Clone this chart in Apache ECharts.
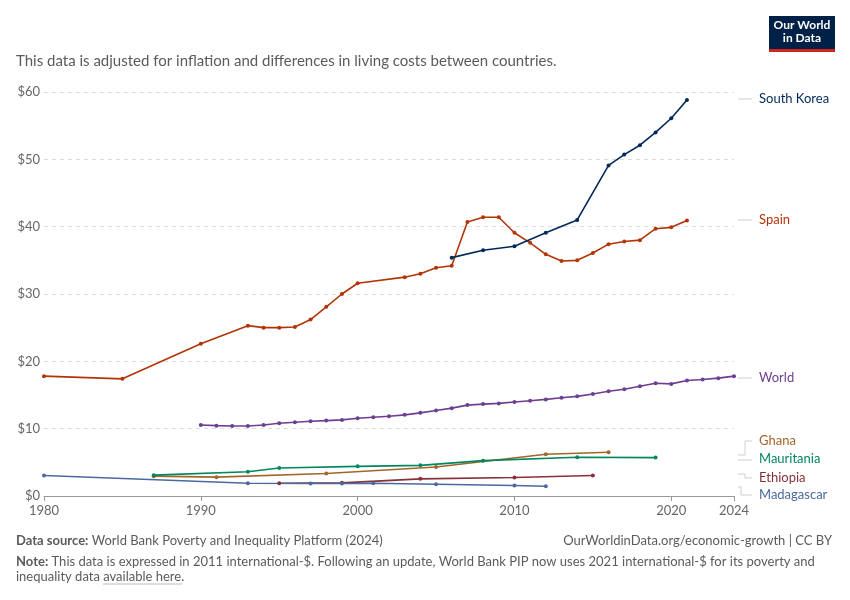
<!DOCTYPE html>
<html><head><meta charset="utf-8">
<script src="https://cdn.jsdelivr.net/npm/echarts@6/dist/echarts.min.js"></script>
<style>html,body{margin:0;padding:0;background:#fff}#c{width:850px;height:600px}</style>
</head><body><div id="c"></div>
<script>
const worldYears = [1990,1991,1992,1993,1994,1995,1996,1997,1998,1999,2000,2001,2002,2003,2004,2005,2006,2007,2008,2009,2010,2011,2012,2013,2014,2015,2016,2017,2018,2019,2020,2021,2022,2023,2024];
const worldValues = [10.55,10.45,10.4,10.4,10.55,10.8,10.95,11.1,11.2,11.3,11.55,11.7,11.85,12.05,12.35,12.7,13.05,13.5,13.65,13.75,13.95,14.15,14.35,14.6,14.8,15.15,15.55,15.85,16.3,16.75,16.65,17.15,17.3,17.5,17.8];
const spainYears = [1980,1985,1990,1993,1994,1995,1996,1997,1998,1999,2000,2003,2004,2005,2006,2007,2008,2009,2010,2011,2012,2013,2014,2015,2016,2017,2018,2019,2020,2021];
const spainValues = [17.8,17.4,22.6,25.3,25.0,25.0,25.1,26.2,28.1,30.0,31.6,32.5,33.0,33.9,34.2,40.7,41.4,41.4,39.1,37.6,35.9,34.9,35.0,36.1,37.4,37.8,38.0,39.7,39.9,40.9];
const koreaYears = [2006,2008,2010,2012,2014,2016,2017,2018,2019,2020,2021];
const koreaValues = [35.4,36.5,37.1,39.1,41.0,49.1,50.7,52.1,54.0,56.1,58.8];
const ghanaYears = [1987,1991,1998,2005,2012,2016];
const ghanaValues = [2.95,2.8,3.35,4.3,6.2,6.5];
const mauritaniaYears = [1987,1993,1995,2000,2004,2008,2014,2019];
const mauritaniaValues = [3.1,3.6,4.15,4.4,4.55,5.25,5.75,5.7];
const ethiopiaYears = [1995,1999,2004,2010,2015];
const ethiopiaValues = [1.9,1.95,2.55,2.75,3.05];
const madagascarYears = [1980,1993,1997,1999,2001,2005,2010,2012];
const madagascarValues = [3.05,1.9,1.85,1.85,1.9,1.75,1.55,1.45];
const xTicks = [1980,1990,2000,2010,2020,2024];

const pair = (xs, ys) => xs.map((x, i) => [x, ys[i]]);
const mk = (name, xs, ys, color) => ({
  name, type: 'line', data: pair(xs, ys), symbol: 'circle', symbolSize: 4,
  lineStyle: { color, width: 1.6 }, itemStyle: { color }, animation: false
});
const txt = (x, y, t, c) => ({ type: 'text', left: x, top: y, style: { text: t, fill: c, font: '13px Lato, sans-serif' } });
const ln = (pts) => ({ type: 'polyline', shape: { points: pts }, style: { stroke: '#cfcfcf', lineWidth: 1, fill: null } });

const chart = echarts.init(document.getElementById('c'));
chart.setOption({
  animation: false,
  grid: { left: 44, right: 116, top: 92, bottom: 104 },
  xAxis: {
    type: 'value', min: 1980, max: 2024,
    axisLine: { lineStyle: { color: '#999' } },
    axisTick: { show: true, customValues: xTicks, lineStyle: { color: '#999' }, length: 5 },
    axisLabel: { customValues: xTicks, formatter: v => String(v), color: '#666', fontSize: 13, fontFamily: 'Lato', margin: 8 },
    splitLine: { show: false }
  },
  yAxis: {
    type: 'value', min: 0, max: 60, interval: 10,
    axisLabel: { formatter: '${value}', color: '#666', fontSize: 13, fontFamily: 'Lato', margin: 4 },
    axisLine: { show: false }, axisTick: { show: false },
    splitLine: { lineStyle: { color: '#ddd', type: [4, 4] } }
  },
  series: [
    mk('World', worldYears, worldValues, '#6D3E91'),
    mk('Spain', spainYears, spainValues, '#B13507'),
    mk('South Korea', koreaYears, koreaValues, '#00295B'),
    mk('Ghana', ghanaYears, ghanaValues, '#A2652B'),
    mk('Mauritania', mauritaniaYears, mauritaniaValues, '#00875E'),
    mk('Ethiopia', ethiopiaYears, ethiopiaValues, '#883039'),
    mk('Madagascar', madagascarYears, madagascarValues, '#4C6A9C')
  ],
  graphic: [
    { type: 'text', left: 16, top: 54, style: { text: 'This data is adjusted for inflation and differences in living costs between countries.', fill: '#5b5b5b', font: '15px Lato, sans-serif' } },
    { type: 'rect', shape: { x: 769, y: 16, width: 66, height: 36 }, style: { fill: '#002147' } },
    { type: 'rect', shape: { x: 769, y: 49, width: 66, height: 3 }, style: { fill: '#CE261E' } },
    { type: 'text', style: { x: 802, y: 19, text: 'Our World\nin Data', fill: '#fff', font: 'bold 12px Lato, sans-serif', align: 'center', lineHeight: 13 } },
    ln([[738, 99], [752, 99]]), txt(759, 92, 'South Korea', '#00295B'),
    ln([[738, 220], [752, 220]]), txt(759, 213, 'Spain', '#B13507'),
    ln([[738, 378], [752, 378]]), txt(759, 371, 'World', '#6D3E91'),
    ln([[738, 455], [745, 455], [745, 441], [752, 441]]), txt(759, 434, 'Ghana', '#A2652B'),
    ln([[738, 460], [752, 460]]), txt(759, 452, 'Mauritania', '#00875E'),
    ln([[738, 474], [745, 474], [745, 478], [752, 478]]), txt(759, 471, 'Ethiopia', '#883039'),
    ln([[738, 487], [741, 487], [741, 495], [752, 495]]), txt(759, 488, 'Madagascar', '#4C6A9C'),
    { type: 'text', left: 16, top: 534, style: { rich: { b: { font: 'bold 13px Lato, sans-serif', fill: '#5b5b5b' }, n: { font: '13px Lato, sans-serif', fill: '#5b5b5b' } }, text: '{b|Data source:}{n| World Bank Poverty and Inequality Platform (2024)}' } },
    { type: 'text', right: 18, top: 534, style: { text: 'OurWorldinData.org/economic-growth | CC BY', fill: '#5b5b5b', font: '13px Lato, sans-serif' } },
    { type: 'text', left: 16, top: 555, style: { rich: { b: { font: 'bold 13px Lato, sans-serif', fill: '#5b5b5b' }, n: { font: '13px Lato, sans-serif', fill: '#5b5b5b' } }, text: '{b|Note:}{n| This data is expressed in 2011 international-$. Following an update, World Bank PIP now uses 2021 international-$ for its poverty and}' } },
    { type: 'text', left: 16, top: 570, style: { rich: { n: { font: '13px Lato, sans-serif', fill: '#5b5b5b' }, u: { font: '13px Lato, sans-serif', fill: '#5b5b5b', textBorderWidth: 0, borderColor: '#bbb' } }, text: '{n|inequality data }{u|available here}{n|.}' } },
    { type: 'line', shape: { x1: 103, y1: 584, x2: 182, y2: 584 }, style: { stroke: '#bbb', lineWidth: 1 } }
  ]
});
</script></body></html>
